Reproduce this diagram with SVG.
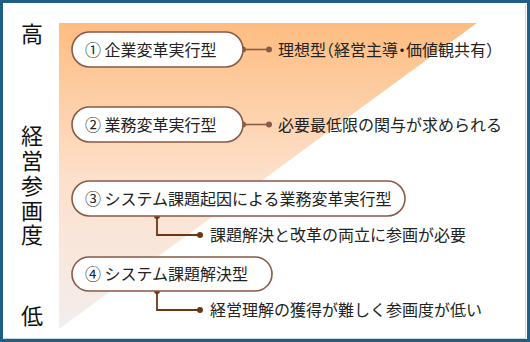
<svg xmlns="http://www.w3.org/2000/svg" width="530" height="342" viewBox="0 0 530 342">
<defs>
<linearGradient id="tri" x1="0" y1="23" x2="0" y2="329" gradientUnits="userSpaceOnUse">
<stop offset="0" stop-color="#fdbd80"/>
<stop offset="0.5" stop-color="#fde0cb"/>
<stop offset="1" stop-color="#f3eeee"/>
</linearGradient>
<style>
.t{font-family:"Noto Sans CJK JP","Noto Sans CJK SC",sans-serif;fill:#222;}
.n{font-size:16px;}
.h{font-feature-settings:"halt" 1;}
.ax{font-size:22px;fill:#111;}
.v{writing-mode:vertical-rl;letter-spacing:2.75px;}
.pill{fill:#fff;stroke:#8b5a47;stroke-width:1.6;}
.c1{stroke:#8b5a47;stroke-width:1.6;fill:none;}
.c2{stroke:#6e3712;stroke-width:1.8;fill:none;}
.d1{fill:#8b5a47;}
.d2{fill:#6e3712;}
</style>
</defs>
<rect x="0" y="0" width="530" height="342" fill="#fff"/>
<rect x="1.5" y="1.5" width="527" height="339" fill="none" stroke="#1f5f86" stroke-width="3"/>
<path d="M4 338.5 H525.5 V4" fill="none" stroke="#c9d6de" stroke-width="1"/>
<polygon points="59,23 477,23 59,329" fill="url(#tri)"/>
<g id="axis">
<text class="t ax" x="32" y="41.5" text-anchor="middle">高</text>
<text class="t ax v" x="32" y="125">経営参画度</text>
<text class="t ax" x="32" y="323.5" text-anchor="middle">低</text>
</g>
<g id="connectors">
<line class="c1" x1="243" y1="49.5" x2="269" y2="49.5"/>
<circle class="d1" cx="243" cy="49.5" r="3"/>
<circle class="d1" cx="269" cy="49.5" r="3"/>
<line class="c1" x1="243" y1="124.5" x2="269" y2="124.5"/>
<circle class="d1" cx="243" cy="124.5" r="3"/>
<circle class="d1" cx="269" cy="124.5" r="3"/>
<path class="c2" d="M157 216 V235 H200"/>
<circle class="d2" cx="157" cy="216" r="3"/>
<circle class="d2" cx="200" cy="235" r="3"/>
<path class="c2" d="M157 291 V310 H200"/>
<circle class="d2" cx="157" cy="291" r="3"/>
<circle class="d2" cx="200" cy="310" r="3"/>
</g>
<g id="node1">
<rect class="pill" x="72" y="32" width="171" height="35" rx="17.5"/>
<text class="t n" x="85" y="55.5">① 企業変革実行型</text>
</g>
<g id="label1"><text class="t n h" x="278" y="55.5">理想型（経営主導・価値観共有）</text></g>
<g id="node2">
<rect class="pill" x="72" y="107" width="171" height="35" rx="17.5"/>
<text class="t n" x="85" y="130.5">② 業務変革実行型</text>
</g>
<g id="label2"><text class="t n" x="278" y="130.5">必要最低限の関与が求められる</text></g>
<g id="node3">
<rect class="pill" x="72" y="181" width="333" height="35" rx="17.5"/>
<text class="t n" x="85" y="204.5">③ システム課題起因による業務変革実行型</text>
</g>
<g id="label3"><text class="t n" x="210" y="241">課題解決と改革の両立に参画が必要</text></g>
<g id="node4">
<rect class="pill" x="72" y="257" width="200" height="34" rx="17"/>
<text class="t n" x="85" y="280">④ システム課題解決型</text>
</g>
<g id="label4"><text class="t n" x="210" y="316">経営理解の獲得が難しく参画度が低い</text></g>
</svg>
